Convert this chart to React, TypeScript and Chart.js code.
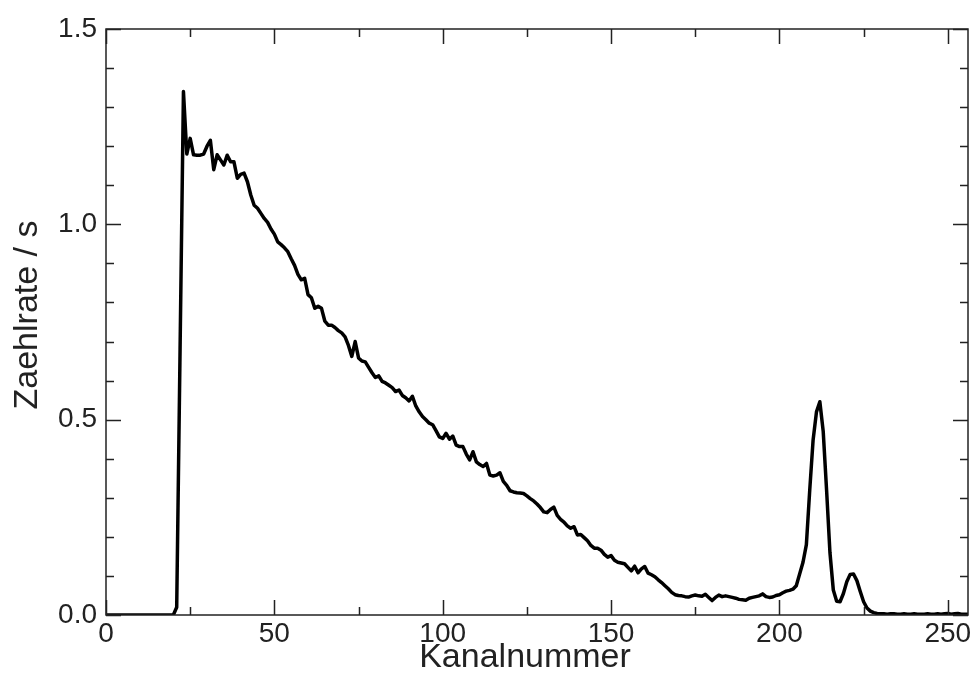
import React, { useEffect, useRef } from "react";
import { Chart, registerables } from "chart.js";

Chart.register(...registerables);

// channel numbers 0..256
const channels: number[] = Array.from({ length: 257 }, (_, i) => i);

// count rate per channel
const rates: number[] = [
  // 0-20
  0, 0, 0, 0, 0, 0, 0, 0, 0, 0, 0, 0, 0, 0, 0, 0, 0, 0, 0, 0, 0,
  // 21-30
  0.02, 0.68, 1.34, 1.18, 1.22, 1.178, 1.177, 1.177, 1.18, 1.2,
  // 31-40
  1.215, 1.14, 1.178, 1.165, 1.152, 1.177, 1.16, 1.16, 1.118, 1.128,
  // 41-50
  1.131, 1.109, 1.075, 1.049, 1.041, 1.028, 1.015, 1.005, 0.988, 0.975,
  // 51-60
  0.955, 0.948, 0.94, 0.93, 0.912, 0.895, 0.872, 0.858, 0.862, 0.82,
  // 61-70
  0.812, 0.785, 0.79, 0.785, 0.752, 0.742, 0.742, 0.736, 0.728, 0.722,
  // 71-80
  0.712, 0.69, 0.662, 0.7, 0.658, 0.65, 0.648, 0.634, 0.62, 0.608,
  // 81-90
  0.612, 0.598, 0.594, 0.588, 0.582, 0.572, 0.576, 0.562, 0.556, 0.548,
  // 91-100
  0.56, 0.535, 0.52, 0.508, 0.5, 0.491, 0.487, 0.472, 0.456, 0.452,
  // 101-110
  0.465, 0.45, 0.458, 0.435, 0.431, 0.431, 0.412, 0.397, 0.418, 0.392,
  // 111-120
  0.385, 0.38, 0.388, 0.358, 0.356, 0.358, 0.364, 0.342, 0.332, 0.318,
  // 121-130
  0.315, 0.313, 0.312, 0.311, 0.305, 0.298, 0.292, 0.284, 0.275, 0.264,
  // 131-140
  0.262, 0.27, 0.276, 0.255, 0.245, 0.238, 0.228, 0.222, 0.226, 0.205,
  // 141-150
  0.206, 0.198, 0.19, 0.178, 0.171, 0.171, 0.166, 0.155, 0.148, 0.152,
  // 151-160
  0.14, 0.135, 0.133, 0.131, 0.122, 0.113, 0.125, 0.108, 0.118, 0.124,
  // 161-170
  0.107, 0.103, 0.098, 0.09, 0.083, 0.075, 0.067, 0.058, 0.052, 0.05,
  // 171-180
  0.049, 0.047, 0.046, 0.049, 0.051, 0.049, 0.048, 0.053, 0.045, 0.037,
  // 181-190
  0.045, 0.051, 0.047, 0.049, 0.047, 0.045, 0.043, 0.04, 0.039, 0.038,
  // 191-200
  0.043, 0.045, 0.047, 0.049, 0.054, 0.047, 0.045, 0.046, 0.05, 0.052,
  // 201-210
  0.057, 0.061, 0.063, 0.066, 0.075, 0.105, 0.135, 0.18, 0.32, 0.448,
  // 211-220
  0.52, 0.546, 0.47, 0.32, 0.16, 0.064, 0.035, 0.034, 0.055, 0.085,
  // 221-230
  0.104, 0.105, 0.088, 0.06, 0.034, 0.018, 0.01, 0.006, 0.004, 0.003,
  // 231-240
  0.003, 0.002, 0.003, 0.003, 0.002, 0.002, 0.003, 0.002, 0.002, 0.003,
  // 241-250
  0.002, 0.002, 0.002, 0.003, 0.002, 0.002, 0.003, 0.002, 0.003, 0.004,
  // 251-256
  0.002, 0.003, 0.004, 0.002, 0.002, 0.002,
];

const xTitle = "Kanalnummer";
const yTitle = "Zaehlrate / s";
const xTickValues: number[] = [0, 50, 100, 150, 200, 250];
const yTickValues: number[] = [0, 0.5, 1.0, 1.5];
const xMajorStep = 50;
const xMinorStep = 25;
const yMajorStep = 0.5;
const yMinorStep = 0.1;

const TEXT = "#222";
const FONT = "'Liberation Sans', Arial, Helvetica, sans-serif";

const frameTicks = {
  id: "frameTicks",
  afterDraw(chart: any) {
    const { ctx, chartArea: a, scales } = chart;
    const xs = scales.x;
    const ys = scales.y;
    ctx.save();
    ctx.strokeStyle = "#222";
    ctx.lineWidth = 1.5;
    ctx.strokeRect(a.left, a.top, a.right - a.left, a.bottom - a.top);
    ctx.beginPath();
    for (let v = xs.min; v <= xs.max + 1e-9; v += xMinorStep) {
      const isMajor = Math.abs(v / xMajorStep - Math.round(v / xMajorStep)) < 1e-6;
      const len = isMajor ? 15 : 8;
      const px = Math.round(xs.getPixelForValue(v)) + 0.5;
      ctx.moveTo(px, a.bottom);
      ctx.lineTo(px, a.bottom - len);
      ctx.moveTo(px, a.top);
      ctx.lineTo(px, a.top + len);
    }
    const n = Math.round((ys.max - ys.min) / yMinorStep);
    for (let i = 0; i <= n; i++) {
      const v = ys.min + i * yMinorStep;
      const isMajor = Math.abs(v / yMajorStep - Math.round(v / yMajorStep)) < 1e-6;
      const len = isMajor ? 15 : 8;
      const py = Math.round(ys.getPixelForValue(v)) + 0.5;
      ctx.moveTo(a.left, py);
      ctx.lineTo(a.left + len, py);
      ctx.moveTo(a.right, py);
      ctx.lineTo(a.right - len, py);
    }
    ctx.stroke();

    // axis titles
    ctx.fillStyle = TEXT;
    ctx.font = `34px ${FONT}`;
    ctx.textAlign = "center";
    ctx.textBaseline = "alphabetic";
    ctx.fillText(xTitle, (a.left + a.right) / 2 - 12, 667);
    ctx.translate(37, (a.top + a.bottom) / 2 - 7);
    ctx.rotate(-Math.PI / 2);
    ctx.fillText(yTitle, 0, 0);
    ctx.restore();
  },
};

export default function App() {
  const ref = useRef<HTMLCanvasElement | null>(null);

  useEffect(() => {
    if (!ref.current) return;
    const chart = new Chart(ref.current, {
      type: "line",
      data: {
        datasets: [
          {
            data: channels.map((c, i) => ({ x: c, y: rates[i] })),
            borderColor: "#000",
            borderWidth: 3.5,
            pointRadius: 0,
            tension: 0,
            fill: false,
            borderJoinStyle: "round",
          },
        ],
      },
      options: {
        animation: false,
        responsive: false,
        events: [],
        layout: { padding: { left: 0, top: 29, right: 7, bottom: 0 } },
        plugins: {
          legend: { display: false },
          tooltip: { enabled: false },
        },
        scales: {
          x: {
            type: "linear",
            min: 0,
            max: 256,
            grid: { display: false, drawTicks: false },
            border: { display: false },
            afterBuildTicks: (s: any) => {
              s.ticks = xTickValues.map((v) => ({ value: v }));
            },
            ticks: {
              autoSkip: false,
              maxRotation: 0,
              color: TEXT,
              padding: 2,
              font: { family: FONT, size: 28 },
              callback: (v: any) => String(v),
            },
            afterFit: (s: any) => {
              s.height = 76;
            },
          },
          y: {
            type: "linear",
            min: 0,
            max: 1.5,
            grid: { display: false, drawTicks: false },
            border: { display: false },
            afterBuildTicks: (s: any) => {
              s.ticks = yTickValues.map((v) => ({ value: v }));
            },
            ticks: {
              autoSkip: false,
              color: TEXT,
              padding: 9,
              font: { family: FONT, size: 28 },
              callback: (v: any) => Number(v).toFixed(1),
            },
            afterFit: (s: any) => {
              s.width = 106;
            },
          },
        },
      },
      plugins: [frameTicks],
    });
    return () => chart.destroy();
  }, []);

  return (
    <div style={{ position: "absolute", left: 0, top: 0, width: 975, height: 691, background: "#fff" }}>
      <canvas ref={ref} width={975} height={691} style={{ display: "block" }} />
    </div>
  );
}
